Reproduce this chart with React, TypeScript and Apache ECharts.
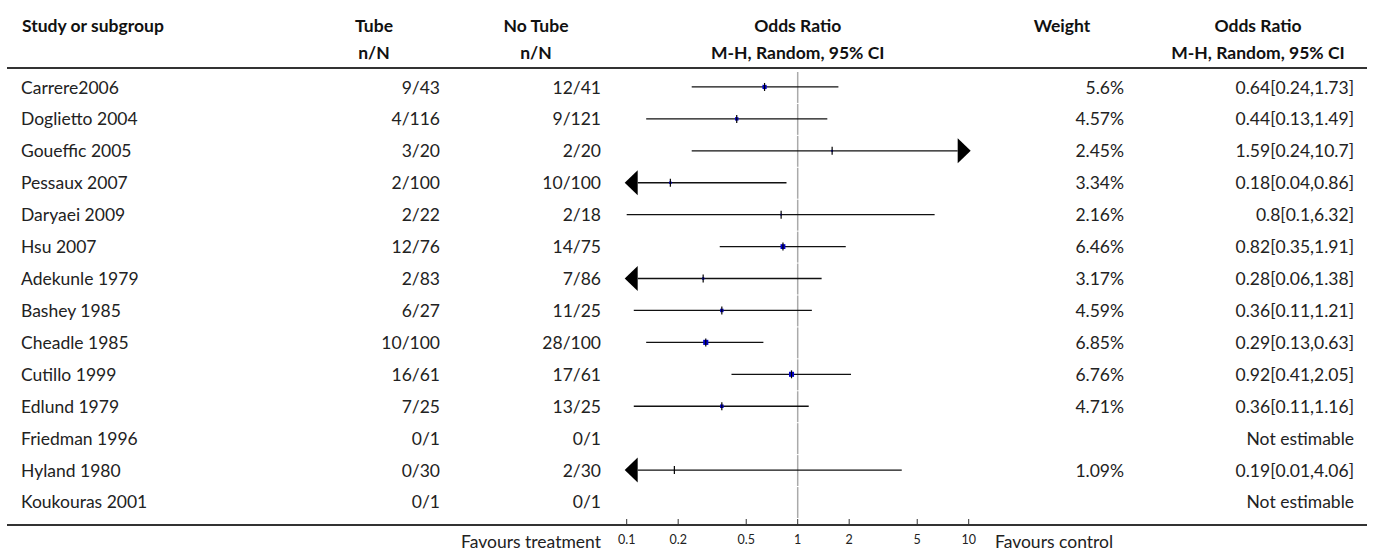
import React, { useEffect, useRef } from "react";
import * as echarts from "echarts";

const studies = [
  "Carrere2006", "Doglietto 2004", "Goueffic 2005", "Pessaux 2007", "Daryaei 2009", "Hsu 2007",
  "Adekunle 1979", "Bashey 1985", "Cheadle 1985", "Cutillo 1999", "Edlund 1979", "Friedman 1996",
  "Hyland 1980", "Koukouras 2001",
];
const tube = ["9/43", "4/116", "3/20", "2/100", "2/22", "12/76", "2/83", "6/27", "10/100", "16/61", "7/25", "0/1", "0/30", "0/1"];
const noTube = ["12/41", "9/121", "2/20", "10/100", "2/18", "14/75", "7/86", "11/25", "28/100", "17/61", "13/25", "0/1", "2/30", "0/1"];
const orValue: (number | null)[] = [0.64, 0.44, 1.59, 0.18, 0.8, 0.82, 0.28, 0.36, 0.29, 0.92, 0.36, null, 0.19, null];
const ciLow: (number | null)[] = [0.24, 0.13, 0.24, 0.04, 0.1, 0.35, 0.06, 0.11, 0.13, 0.41, 0.11, null, 0.01, null];
const ciHigh: (number | null)[] = [1.73, 1.49, 10.7, 0.86, 6.32, 1.91, 1.38, 1.21, 0.63, 2.05, 1.16, null, 4.06, null];
const weights: (number | null)[] = [5.6, 4.57, 2.45, 3.34, 2.16, 6.46, 3.17, 4.59, 6.85, 6.76, 4.71, null, 1.09, null];
const weightLabels = ["5.6%", "4.57%", "2.45%", "3.34%", "2.16%", "6.46%", "3.17%", "4.59%", "6.85%", "6.76%", "4.71%", "", "1.09%", ""];
const orLabels = [
  "0.64[0.24,1.73]", "0.44[0.13,1.49]", "1.59[0.24,10.7]", "0.18[0.04,0.86]", "0.8[0.1,6.32]", "0.82[0.35,1.91]",
  "0.28[0.06,1.38]", "0.36[0.11,1.21]", "0.29[0.13,0.63]", "0.92[0.41,2.05]", "0.36[0.11,1.16]", "Not estimable",
  "0.19[0.01,4.06]", "Not estimable",
];
const tickValues = [0.1, 0.2, 0.5, 1, 2, 5, 10];
const tickLabels = ["0.1", "0.2", "0.5", "1", "2", "5", "10"];
const headers1 = ["Study or subgroup", "Tube", "No Tube", "Odds Ratio", "Weight", "Odds Ratio"];
const headers2 = ["", "n/N", "n/N", "M-H, Random, 95% CI", "", "M-H, Random, 95% CI"];
const favLeft = "Favours treatment";
const favRight = "Favours control";

const FONT = "Lato, 'Open Sans', sans-serif";
const FS = 17.5;
const ROW0 = 87;
const ROWH = 31.92;

export default function App() {
  const ref = useRef<HTMLDivElement>(null);
  useEffect(() => {
    if (!ref.current) return;
    const chart = echarts.init(ref.current, null, { renderer: "svg" });
    const rowY = (i: number) => ROW0 + i * ROWH;
    const graphics: any[] = [];
    const hx = [
      { x: 22, align: "left" },
      { x: 374, align: "center" },
      { x: 536, align: "center" },
      { x: 797.7, align: "center" },
      { x: 1062, align: "center" },
      { x: 1258, align: "center" },
    ];
    headers1.forEach((t, k) => {
      graphics.push({ type: "text", x: hx[k].x, y: 25, style: { text: t, fill: "#111", font: `bold ${FS}px ${FONT}`, textAlign: hx[k].align, textVerticalAlign: "middle" } });
      if (headers2[k]) graphics.push({ type: "text", x: hx[k].x, y: 52, style: { text: headers2[k], fill: "#111", font: `bold ${FS}px ${FONT}`, textAlign: hx[k].align, textVerticalAlign: "middle" } });
    });
    graphics.push({ type: "line", shape: { x1: 7, y1: 68, x2: 1367, y2: 68 }, style: { stroke: "#333", lineWidth: 2 } });
    graphics.push({ type: "line", shape: { x1: 7, y1: 525, x2: 1367, y2: 525 }, style: { stroke: "#333", lineWidth: 2 } });
    studies.forEach((s, i) => {
      const y = rowY(i);
      const st = (text: string, x: number, align: string) => ({ type: "text", x, y, style: { text, fill: "#222", font: `${FS}px ${FONT}`, textAlign: align, textVerticalAlign: "middle" } });
      graphics.push(st(s, 21, "left"));
      graphics.push(st(tube[i], 440, "right"));
      graphics.push(st(noTube[i], 601, "right"));
      if (weightLabels[i]) graphics.push(st(weightLabels[i], 1124, "right"));
      graphics.push(st(orLabels[i], 1354, "right"));
    });
    graphics.push({ type: "text", x: 601, y: 541, style: { text: favLeft, fill: "#222", font: `${FS}px ${FONT}`, textAlign: "right", textVerticalAlign: "middle" } });
    graphics.push({ type: "text", x: 995, y: 541, style: { text: favRight, fill: "#222", font: `${FS}px ${FONT}`, textAlign: "left", textVerticalAlign: "middle" } });

    const rowData = studies.map((_, i) => [i, orValue[i], ciLow[i], ciHigh[i], weights[i]]);
    const tickData = tickValues.map((v, k) => [v, k]);

    chart.setOption({
      animation: false,
      grid: { left: 626.7, right: 1375 - 968.7, top: 71, height: 454 },
      xAxis: {
        type: "log", min: 0.1, max: 10, logBase: 10,
        axisLine: { show: false }, axisTick: { show: false }, axisLabel: { show: false }, splitLine: { show: false },
      },
      yAxis: {
        type: "value", inverse: true, min: -0.5, max: 13.72,
        axisLine: { show: false }, axisTick: { show: false }, axisLabel: { show: false }, splitLine: { show: false },
      },
      series: [
        {
          type: "custom",
          clip: false,
          data: rowData,
          encode: { x: 1, y: 0 },
          renderItem: (params: any, api: any) => {
            const i = api.value(0);
            const est = orValue[i];
            const lo = ciLow[i];
            const hi = ciHigh[i];
            const w = weights[i];
            const cy = api.coord([1, i])[1];
            const xRef = api.coord([1, i])[0];
            const yTop = api.coord([1, i - 0.5])[1];
            const yBot = api.coord([1, i + 0.5])[1];
            const children: any[] = [
              { type: "line", shape: { x1: xRef, y1: yTop + 1, x2: xRef, y2: yBot }, style: { stroke: "#aaa", lineWidth: 1.5 } },
            ];
            if (est != null && lo != null && hi != null && w != null) {
              const xMin = api.coord([0.1, i])[0];
              const xMax = api.coord([10, i])[0];
              let x1 = api.coord([Math.max(lo, 0.1), i])[0];
              let x2 = api.coord([Math.min(hi, 10), i])[0];
              if (lo < 0.1) {
                const tip = xMin - 2;
                x1 = tip + 13;
                children.push({ type: "polygon", shape: { points: [[tip, cy], [tip + 13, cy - 12.5], [tip + 13, cy + 12.5]] }, style: { fill: "#000" } });
              }
              if (hi > 10) {
                const tip = xMax + 2;
                x2 = tip - 13;
                children.push({ type: "polygon", shape: { points: [[tip, cy], [tip - 13, cy - 12.5], [tip - 13, cy + 12.5]] }, style: { fill: "#000" } });
              }
              children.push({ type: "line", shape: { x1, y1: cy, x2, y2: cy }, style: { stroke: "#111", lineWidth: 1.3 } });
              const xe = api.coord([est, i])[0];
              const sz = w * 0.75;
              children.push({ type: "rect", shape: { x: xe - sz / 2, y: cy - sz / 2, width: sz, height: sz }, style: { fill: "#0000cc" } });
              children.push({ type: "line", shape: { x1: xe, y1: cy - 4, x2: xe, y2: cy + 4 }, style: { stroke: "#000", lineWidth: 1.2 } });
            }
            return { type: "group", children };
          },
          z: 5,
        },
        {
          type: "custom",
          clip: false,
          data: tickData,
          encode: { x: 0 },
          renderItem: (params: any, api: any) => {
            const v = api.value(0);
            const k = api.value(1);
            const x = api.coord([v, 0])[0];
            return {
              type: "group",
              children: [
                { type: "line", shape: { x1: x, y1: 519, x2: x, y2: 525 }, style: { stroke: "#333", lineWidth: 1 } },
                { type: "text", x, y: 539, style: { text: tickLabels[k], fill: "#222", font: `12.5px ${FONT}`, textAlign: "center", textVerticalAlign: "middle" } },
              ],
            };
          },
        },
      ],
      graphic: graphics,
    });
    return () => chart.dispose();
  }, []);
  return <div ref={ref} style={{ position: "fixed", left: 0, top: 0, width: 1375, height: 552, background: "#fff" }} />;
}
